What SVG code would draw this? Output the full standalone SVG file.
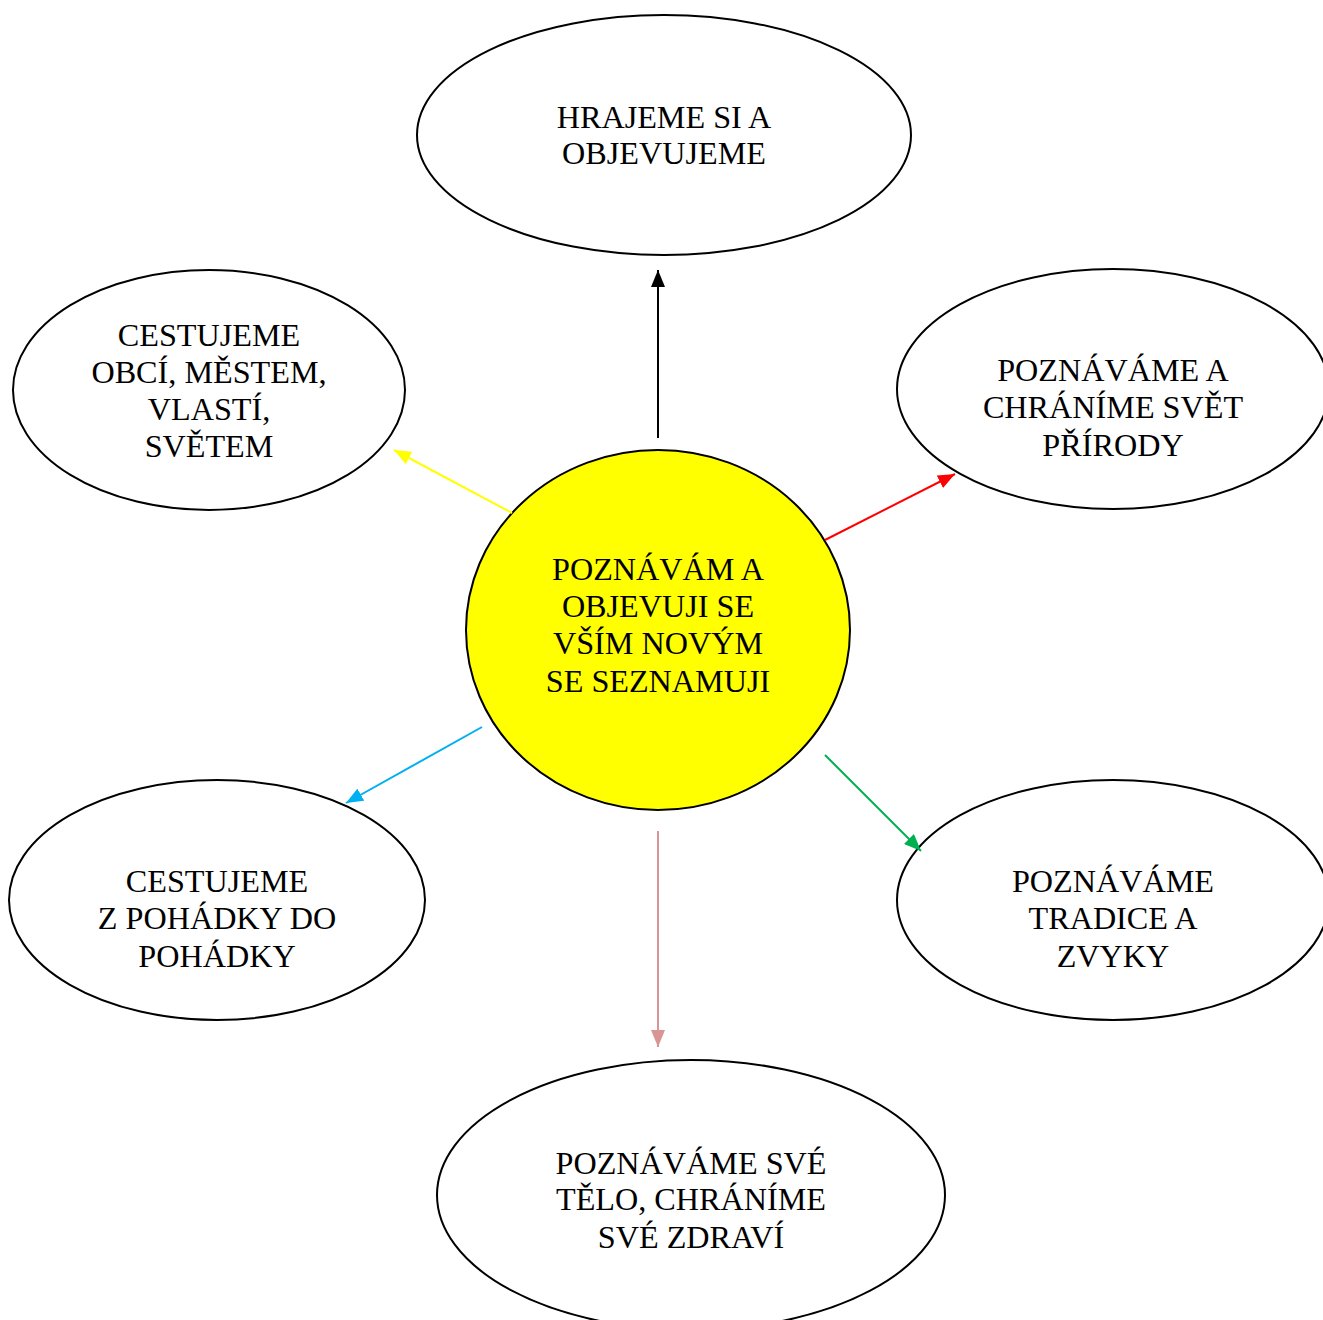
<svg xmlns="http://www.w3.org/2000/svg" width="1323" height="1320" viewBox="0 0 1323 1320">
<style>
.node ellipse{fill:#fff;stroke:#000;stroke-width:2}
#center ellipse{fill:#ffff00}
text{font-family:"Liberation Serif","Times New Roman",serif;font-size:32.2px;fill:#000;text-anchor:middle}
.c line{stroke-width:2}
</style>
<defs>
<marker id="mk" viewBox="0 0 17 14" refX="17" refY="7" markerWidth="17" markerHeight="14" markerUnits="userSpaceOnUse" orient="auto"><path d="M0,0L17,7L0,14z" fill="#000"/></marker>
<marker id="my" viewBox="0 0 17 14" refX="17" refY="7" markerWidth="17" markerHeight="14" markerUnits="userSpaceOnUse" orient="auto"><path d="M0,0L17,7L0,14z" fill="#ffff00"/></marker>
<marker id="mr" viewBox="0 0 17 14" refX="17" refY="7" markerWidth="17" markerHeight="14" markerUnits="userSpaceOnUse" orient="auto"><path d="M0,0L17,7L0,14z" fill="#ff0000"/></marker>
<marker id="mb" viewBox="0 0 17 14" refX="17" refY="7" markerWidth="17" markerHeight="14" markerUnits="userSpaceOnUse" orient="auto"><path d="M0,0L17,7L0,14z" fill="#00b0f0"/></marker>
<marker id="mg" viewBox="0 0 17 14" refX="17" refY="7" markerWidth="17" markerHeight="14" markerUnits="userSpaceOnUse" orient="auto"><path d="M0,0L17,7L0,14z" fill="#00b050"/></marker>
<marker id="mp" viewBox="0 0 17 14" refX="17" refY="7" markerWidth="17" markerHeight="14" markerUnits="userSpaceOnUse" orient="auto"><path d="M0,0L17,7L0,14z" fill="#d99594"/></marker>
</defs>
<g id="n-top" class="node">
<ellipse cx="664" cy="135" rx="247" ry="120"/>
<text x="664" y="128">HRAJEME SI A</text>
<text x="664" y="164">OBJEVUJEME</text>
</g>
<g id="n-lefttop" class="node">
<ellipse cx="209" cy="390" rx="196" ry="120"/>
<text x="209" y="346">CESTUJEME</text>
<text x="209" y="383">OBCÍ, MĚSTEM,</text>
<text x="209" y="420">VLASTÍ,</text>
<text x="209" y="457">SVĚTEM</text>
</g>
<g id="n-righttop" class="node">
<ellipse cx="1113" cy="389" rx="216" ry="120"/>
<text x="1113" y="381">POZNÁVÁME A</text>
<text x="1113" y="418">CHRÁNÍME SVĚT</text>
<text x="1113" y="456">PŘÍRODY</text>
</g>
<g id="center" class="node">
<ellipse cx="658" cy="630" rx="192" ry="180"/>
<text x="658" y="580">POZNÁVÁM A</text>
<text x="658" y="617">OBJEVUJI SE</text>
<text x="658" y="654">VŠÍM NOVÝM</text>
<text x="658" y="692">SE SEZNAMUJI</text>
</g>
<g id="n-leftbottom" class="node">
<ellipse cx="217" cy="900" rx="208" ry="120"/>
<text x="217" y="892">CESTUJEME</text>
<text x="217" y="929">Z POHÁDKY DO</text>
<text x="217" y="967">POHÁDKY</text>
</g>
<g id="n-rightbottom" class="node">
<ellipse cx="1113" cy="900" rx="216" ry="120"/>
<text x="1113" y="892">POZNÁVÁME</text>
<text x="1113" y="929">TRADICE A</text>
<text x="1113" y="967">ZVYKY</text>
</g>
<g id="n-bottom" class="node">
<ellipse cx="691" cy="1195" rx="254" ry="135"/>
<text x="691" y="1174">POZNÁVÁME SVÉ</text>
<text x="691" y="1210">TĚLO, CHRÁNÍME</text>
<text x="691" y="1248">SVÉ ZDRAVÍ</text>
</g>
<g id="connectors" class="c">
<line x1="658" y1="438" x2="658" y2="270" stroke="#000" marker-end="url(#mk)"/>
<line x1="512" y1="513" x2="394" y2="450" stroke="#ffff00" marker-end="url(#my)"/>
<line x1="825" y1="540" x2="955" y2="474" stroke="#ff0000" marker-end="url(#mr)"/>
<line x1="482" y1="727" x2="346" y2="803" stroke="#00b0f0" marker-end="url(#mb)"/>
<line x1="825" y1="755" x2="921" y2="851" stroke="#00b050" marker-end="url(#mg)"/>
<line x1="658" y1="831" x2="658" y2="1047" stroke="#d99594" marker-end="url(#mp)"/>
</g>
</svg>
